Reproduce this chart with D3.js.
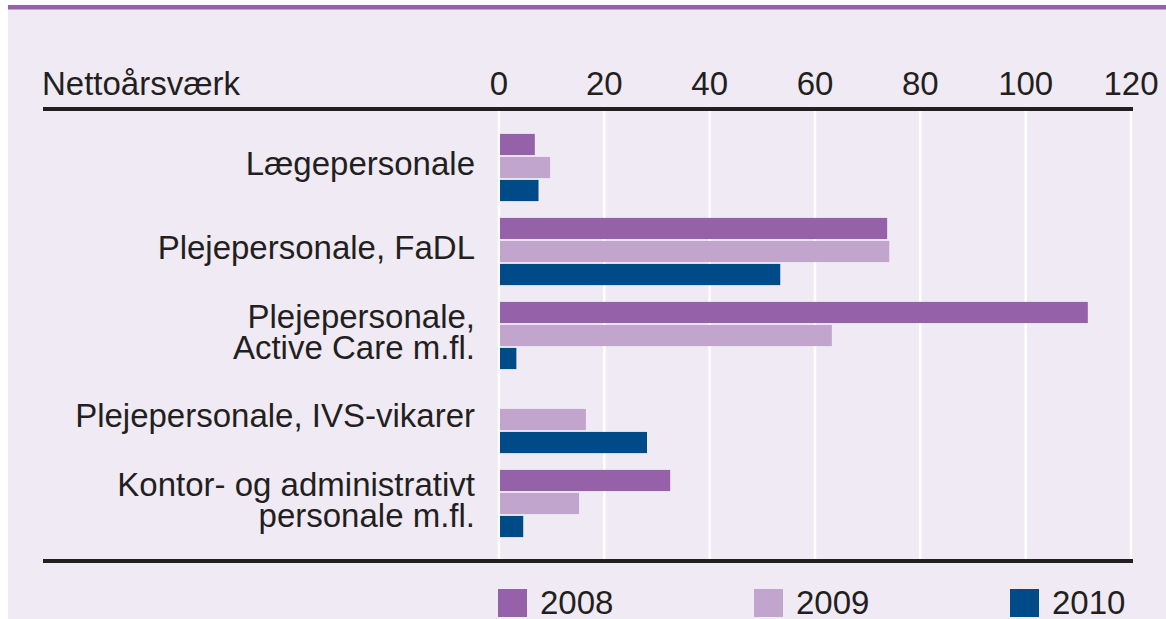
<!DOCTYPE html>
<html>
<head>
<meta charset="utf-8">
<script src="https://cdn.jsdelivr.net/npm/d3@7"></script>
<style>
  html, body { margin: 0; padding: 0; background: #fff; }
  svg { display: block; font-family: "Liberation Sans", Arial, sans-serif; }
</style>
</head>
<body>
<svg id="chart" width="1166" height="619"></svg>
<script>
// categories (one or two label lines each)
const categories = [
    ["Lægepersonale"],
    ["Plejepersonale, FaDL"],
    ["Plejepersonale,", "Active Care m.fl."],
    ["Plejepersonale, IVS-vikarer"],
    ["Kontor- og administrativt", "personale m.fl."]
]
const years = ["2008", "2009", "2010"]
const values2008 = [6.8, 73.7, 111.8, 0, 32.5]
const values2009 = [9.7, 74.1, 63.2, 16.5, 15.2]
const values2010 = [7.5, 53.4, 3.3, 28.1, 4.6]
const xTicks = [0, 20, 40, 60, 80, 100, 120]
const title = "Nettoårsværk"

const colors = { "2008": "#9561a8", "2009": "#c1a5cd", "2010": "#004b87" }
const ink = "#231f20"
const fontSize = 33

const series = { "2008": values2008, "2009": values2009, "2010": values2010 }
const rows = categories.map((label, i) => ({
    label,
    key: i,
    bars: years.map(y => ({ year: y, value: series[y][i] }))
}))

const svg = d3.select("#chart")

// background + top rule
svg.append("rect")
    .attr("x", 8).attr("y", 8).attr("width", 1158).attr("height", 611)
    .attr("fill", "#f0eaf5")
svg.append("rect")
    .attr("x", 8).attr("y", 5).attr("width", 1158).attr("height", 4.5)
    .attr("fill", "#9561a8")

const x = d3.scaleLinear().domain([0, 120]).range([499, 1131])
const y = d3.scaleBand()
    .domain(rows.map(d => d.key))
    .range([125.5, 545.5])
    .paddingInner(0.2)
    .paddingOuter(0.1)
const yInner = d3.scaleBand()
    .domain(years)
    .range([0, y.bandwidth()])
    .paddingInner(0.08)

// grid lines
svg.append("g")
    .selectAll("line")
    .data(xTicks)
    .enter()
    .append("line")
    .attr("x1", d => x(d)).attr("x2", d => x(d))
    .attr("y1", 110).attr("y2", 559)
    .attr("stroke", "#ffffff")
    .attr("stroke-width", 2.5)

// tick labels on top
svg.append("g")
    .selectAll("text")
    .data(xTicks)
    .enter()
    .append("text")
    .attr("x", d => x(d))
    .attr("y", 95)
    .attr("text-anchor", "middle")
    .attr("font-size", fontSize)
    .attr("fill", ink)
    .text(d => d)

svg.append("text")
    .attr("x", 42).attr("y", 95)
    .attr("font-size", fontSize)
    .attr("fill", ink)
    .text(title)

// bars
const groups = svg.append("g")
    .selectAll("g")
    .data(rows)
    .enter()
    .append("g")
    .attr("transform", d => `translate(0,${y(d.key)})`)

groups.selectAll("rect")
    .data(d => d.bars.filter(b => b.value > 0))
    .enter()
    .append("rect")
    .attr("x", x(0) + 1)
    .attr("y", d => yInner(d.year))
    .attr("width", d => x(d.value) - x(0) - 1)
    .attr("height", yInner.bandwidth())
    .attr("fill", d => colors[d.year])

// category labels
const lineH = 32
groups.append("text")
    .attr("text-anchor", "end")
    .attr("font-size", fontSize)
    .attr("fill", ink)
    .selectAll("tspan")
    .data(d => d.label.map((t, i) => ({ t, i, n: d.label.length })))
    .enter()
    .append("tspan")
    .attr("x", 475)
    .attr("y", d => y.bandwidth() / 2 + 8 + (d.i - (d.n - 1) / 2) * lineH)
    .text(d => d.t)

// black rules
svg.append("rect")
    .attr("x", 43).attr("y", 107).attr("width", 1090).attr("height", 4)
    .attr("fill", ink)
svg.append("rect")
    .attr("x", 43).attr("y", 559).attr("width", 1090).attr("height", 4)
    .attr("fill", ink)

// legend
const legend = svg.append("g")
    .selectAll("g")
    .data(years)
    .enter()
    .append("g")
    .attr("transform", (d, i) => `translate(${498 + i * 256},589)`)
legend.append("rect")
    .attr("width", 29).attr("height", 28)
    .attr("fill", d => colors[d])
legend.append("text")
    .attr("x", 42).attr("y", 25)
    .attr("font-size", fontSize)
    .attr("fill", ink)
    .text(d => d)
</script>
</body>
</html>
